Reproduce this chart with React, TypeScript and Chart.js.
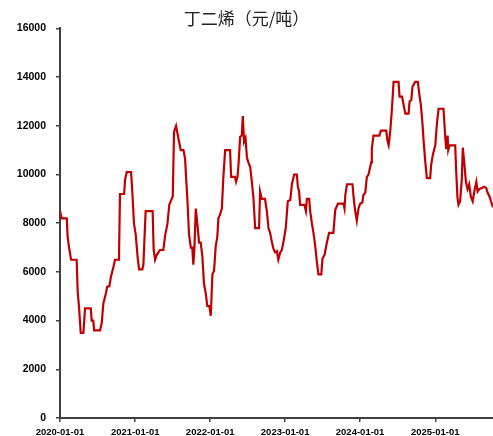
import React, { useEffect, useRef } from "react";
import { Chart, registerables } from "chart.js";

Chart.register(...registerables);

const titleText = "丁二烯（元/吨）";

const dates = [
  "2020-01-01", "2020-01-09", "2020-02-03", "2020-02-07", "2020-02-14", "2020-02-24", "2020-03-22", "2020-03-27",
  "2020-04-03", "2020-04-11", "2020-04-24", "2020-05-02", "2020-05-30", "2020-06-03", "2020-06-11", "2020-06-15",
  "2020-07-14", "2020-07-22", "2020-07-30", "2020-08-11", "2020-08-18", "2020-08-28", "2020-09-05", "2020-09-17",
  "2020-09-25", "2020-10-14", "2020-10-19", "2020-11-08", "2020-11-13", "2020-11-21", "2020-12-12", "2020-12-18",
  "2020-12-26", "2021-01-04", "2021-01-13", "2021-01-20", "2021-02-05", "2021-02-10", "2021-02-21", "2021-03-27",
  "2021-04-01", "2021-04-08", "2021-04-16", "2021-05-02", "2021-05-18", "2021-05-27", "2021-06-07", "2021-06-16",
  "2021-06-28", "2021-07-03", "2021-07-09", "2021-07-19", "2021-07-30", "2021-08-11", "2021-08-24", "2021-09-01",
  "2021-09-06", "2021-09-12", "2021-09-20", "2021-09-29", "2021-10-06", "2021-10-11", "2021-10-16", "2021-10-23",
  "2021-10-31", "2021-11-08", "2021-11-16", "2021-11-24", "2021-12-02", "2021-12-11", "2021-12-18", "2021-12-28",
  "2022-01-04", "2022-01-12", "2022-01-20", "2022-01-28", "2022-02-05", "2022-02-10", "2022-02-18", "2022-02-27",
  "2022-03-06", "2022-03-15", "2022-04-08", "2022-04-13", "2022-05-02", "2022-05-07", "2022-05-14", "2022-05-19",
  "2022-05-27", "2022-06-04", "2022-06-09", "2022-06-15", "2022-06-22", "2022-06-29", "2022-07-06", "2022-07-15",
  "2022-07-23", "2022-07-31", "2022-08-08", "2022-08-27", "2022-09-01", "2022-09-09", "2022-09-25", "2022-10-04",
  "2022-10-12", "2022-10-20", "2022-10-28", "2022-11-05", "2022-11-13", "2022-11-22", "2022-11-29", "2022-12-08",
  "2022-12-16", "2022-12-24", "2023-01-04", "2023-01-14", "2023-01-26", "2023-02-03", "2023-02-14", "2023-02-27",
  "2023-03-04", "2023-03-10", "2023-03-15", "2023-04-05", "2023-04-12", "2023-04-17", "2023-04-28", "2023-05-03",
  "2023-05-11", "2023-05-19", "2023-05-27", "2023-06-04", "2023-06-12", "2023-06-26", "2023-07-02", "2023-07-12",
  "2023-07-23", "2023-08-03", "2023-08-24", "2023-09-02", "2023-09-15", "2023-10-12", "2023-10-17", "2023-10-21",
  "2023-10-29", "2023-11-25", "2023-11-30", "2023-12-08", "2023-12-16", "2023-12-24", "2024-01-01", "2024-01-12",
  "2024-01-17", "2024-01-26", "2024-02-03", "2024-02-11", "2024-02-24", "2024-02-27", "2024-03-06", "2024-04-04",
  "2024-04-11", "2024-05-07", "2024-05-14", "2024-05-19", "2024-05-27", "2024-06-04", "2024-06-12", "2024-07-06",
  "2024-07-11", "2024-07-23", "2024-07-31", "2024-08-08", "2024-08-24", "2024-08-29", "2024-09-06", "2024-09-12",
  "2024-09-25", "2024-10-08", "2024-10-16", "2024-10-23", "2024-10-31", "2024-11-05", "2024-11-13", "2024-11-21",
  "2024-12-07", "2024-12-12", "2024-12-20", "2025-01-01", "2025-01-09", "2025-01-17", "2025-02-10", "2025-02-18",
  "2025-02-23", "2025-03-02", "2025-03-05", "2025-03-12", "2025-04-08", "2025-04-13", "2025-04-19", "2025-04-24",
  "2025-05-02", "2025-05-10", "2025-05-15", "2025-05-23", "2025-05-30", "2025-06-07", "2025-06-15", "2025-06-23",
  "2025-07-02", "2025-07-10", "2025-07-20", "2025-07-26", "2025-08-03", "2025-08-16", "2025-08-27", "2025-09-06",
  "2025-09-13", "2025-09-22", "2025-09-29", "2025-10-09",
];

const prices = [
  8500, 8200, 8200, 7470, 7000, 6500, 6500, 5200,
  4500, 3500, 3500, 4500, 4500, 4000, 4000, 3600,
  3600, 3900, 4700, 5100, 5400, 5400, 5800, 6200,
  6500, 6500, 9200, 9200, 9800, 10100, 10100, 9300,
  8000, 7500, 6600, 6100, 6100, 6300, 8500, 8500,
  6900, 6500, 6700, 6900, 6900, 7500, 7970, 8760,
  9000, 9100, 11750, 12000, 11500, 11000, 11000, 10650,
  9850, 9000, 7550, 7000, 7000, 6300, 6900, 8600,
  7950, 7200, 7200, 6650, 5500, 5100, 4600, 4600,
  4200, 5900, 6050, 7050, 7450, 8200, 8350, 8600,
  9850, 11000, 11000, 9900, 9900, 9700, 9900, 10400,
  11550, 11600, 12400, 11350, 11500, 10700, 10500, 10300,
  9700, 9000, 7800, 7800, 9300, 9000, 9000, 8500,
  7800, 7600, 7250, 6950, 6800, 6850, 6500, 6800,
  6900, 7250, 7800, 8900, 8950, 9600, 10000, 10000,
  9500, 9300, 8750, 8750, 8500, 9000, 9000, 8500,
  8000, 7600, 7100, 6450, 5900, 5900, 6550, 6700,
  7200, 7600, 7600, 8550, 8800, 8800, 8600, 9150,
  9600, 9600, 9100, 8500, 8100, 8600, 8800, 8850,
  9150, 9250, 9900, 10000, 10500, 11050, 11600, 11600,
  11800, 11800, 11350, 11200, 11800, 12700, 13800, 13800,
  13200, 13200, 12850, 12500, 12500, 13000, 13050, 13600,
  13800, 13800, 13250, 12850, 12050, 11400, 10550, 9850,
  9850, 10400, 10800, 11200, 12100, 12700, 12700, 11600,
  11050, 11600, 11000, 11200, 11200, 10100, 9050, 8750,
  8900, 9800, 11100, 10400, 9700, 9400, 9600, 9100,
  8900, 9300, 9700, 9300, 9400, 9450, 9500, 9450,
  9250, 9100, 8900, 8650,
];

const xTickLabels = ["2020-01-01", "2021-01-01", "2022-01-01", "2023-01-01", "2024-01-01", "2025-01-01"];
const yMin = 0;
const yMax = 16000;
const yStep = 2000;

const ORIGIN = Date.parse("2020-01-01T00:00:00Z");
const dayOf = (s: string) => Math.round((Date.parse(s + "T00:00:00Z") - ORIGIN) / 86400000);

export default function App() {
  const ref = useRef<HTMLCanvasElement | null>(null);

  useEffect(() => {
    if (!ref.current) return;
    const points = dates.map((d, i) => ({ x: dayOf(d), y: prices[i] }));
    const tickDays = xTickLabels.map(dayOf);
    const labelOf = new Map(tickDays.map((d, i) => [d, xTickLabels[i]]));
    const axisColor = "#404040";
    const tickFont = { family: "'Liberation Sans', Arial, sans-serif", weight: "bold" as const };

    const chart = new Chart(ref.current, {
      type: "line",
      data: {
        datasets: [
          {
            data: points,
            borderColor: "#c00000",
            borderWidth: 2.2,
            pointRadius: 0,
            tension: 0,
            fill: false,
          },
        ],
      },
      options: {
        animation: false,
        responsive: false,
        maintainAspectRatio: false,
        layout: { padding: { left: 0, right: 0, top: 0, bottom: 0 } },
        plugins: {
          legend: { display: false },
          tooltip: { enabled: false },
          title: {
            display: true,
            text: titleText,
            color: "#222",
            font: { family: "'Noto Sans CJK SC', sans-serif", size: 17, weight: "normal" },
            padding: { top: 8, bottom: 0 },
          },
        },
        scales: {
          x: {
            type: "linear",
            min: 0,
            max: dayOf(dates[dates.length - 1]),
            afterBuildTicks: (axis: any) => {
              axis.ticks = tickDays.map((v) => ({ value: v }));
            },
            afterFit: (axis: any) => {
              axis.height = 18;
            },
            ticks: {
              autoSkip: false,
              maxRotation: 0,
              padding: 5,
              color: "#000",
              font: { ...tickFont, size: 9.5 },
              callback: (v: any) => labelOf.get(Number(v)) ?? "",
            },
            grid: { drawOnChartArea: false, drawTicks: true, tickLength: 4, color: axisColor, lineWidth: 1.5 },
            border: { display: true, color: axisColor, width: 2 },
          },
          y: {
            min: yMin,
            max: yMax,
            afterFit: (axis: any) => {
              axis.width = 60;
            },
            ticks: {
              stepSize: yStep,
              padding: 10,
              color: "#000",
              font: { ...tickFont, size: 10.5 },
              callback: (v: any) => String(v),
            },
            grid: { drawOnChartArea: false, drawTicks: true, tickLength: 4, color: axisColor, lineWidth: 1.5 },
            border: { display: true, color: axisColor, width: 2 },
          },
        },
      },
    });
    return () => chart.destroy();
  }, []);

  return (
    <div style={{ position: "fixed", left: 0, top: 0, width: 493, height: 436, background: "#fff" }}>
      <canvas ref={ref} width={493} height={436} style={{ width: 493, height: 436, display: "block" }} />
    </div>
  );
}
